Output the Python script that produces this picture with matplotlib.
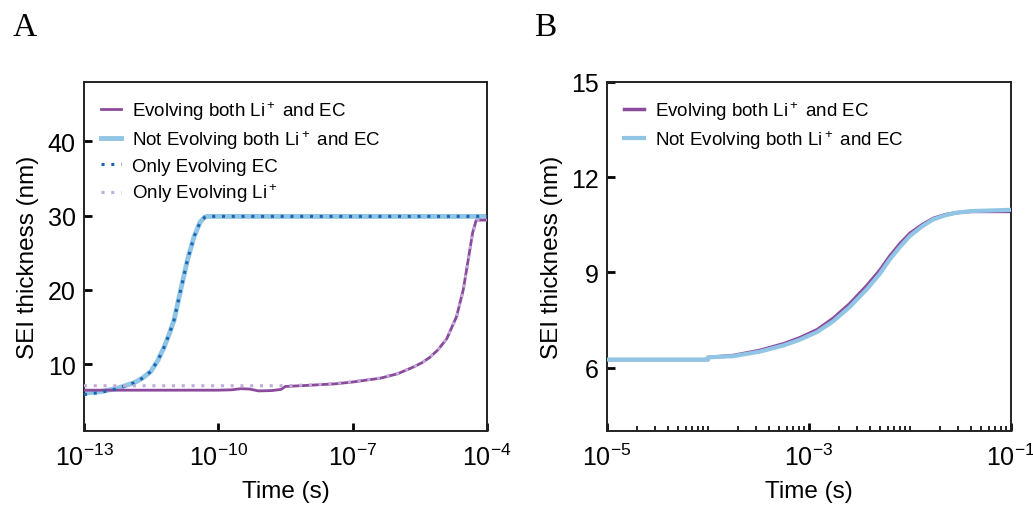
import matplotlib
matplotlib.use("Agg")
import matplotlib.pyplot as plt
import numpy as np
from matplotlib.ticker import FixedLocator, LogFormatterMathtext, NullFormatter

plt.rcParams['font.family'] = ['Liberation Sans', 'DejaVu Sans']
plt.rcParams['mathtext.fontset'] = 'custom'
plt.rcParams['mathtext.rm'] = 'Liberation Sans'
plt.rcParams['mathtext.it'] = 'Liberation Sans:italic'
plt.rcParams['mathtext.bf'] = 'Liberation Sans:bold'

# ---------------- Panel A data ----------------
a_notevolve_t = [1e-13, 10**-12.63, 10**-12.26, 10**-11.88, 10**-11.7, 10**-11.51, 10**-11.35,
                 10**-11.21, 10**-11.1, 10**-10.99, 10**-10.84, 10**-10.69, 10**-10.54,
                 10**-10.4, 10**-10.3, 10**-10.25, 1e-4]
a_notevolve_y = [6.1, 6.3, 6.75, 7.5, 8.1, 9.0, 10.5, 12.3, 14.0, 15.9, 20.0, 24.0, 27.2,
                 29.2, 29.8, 29.9, 29.9]

a_onlyec_t = a_notevolve_t
a_onlyec_y = [5.9, 6.2, 6.7, 7.5, 8.1, 9.0, 10.5, 12.3, 14.0, 15.9, 20.0, 24.0, 27.2,
              29.2, 29.8, 29.9, 29.9]

a_both_t = [1e-13, 1e-10, 10**-9.7, 10**-9.5, 10**-9.3, 10**-9.1, 10**-8.8, 10**-8.6, 10**-8.5,
            1e-8, 10**-7.4, 1e-7, 10**-6.7, 10**-6.39, 10**-6.0, 10**-5.65, 10**-5.45, 10**-5.28,
            10**-5.1, 10**-4.9, 10**-4.68, 10**-4.53, 10**-4.42, 10**-4.32, 10**-4.24, 1e-4]
a_both_y = [6.5, 6.5, 6.55, 6.7, 6.65, 6.4, 6.45, 6.6, 7.0,
            7.15, 7.35, 7.6, 7.85, 8.1, 8.7, 9.6, 10.2, 10.9,
            11.9, 13.4, 16.4, 20.0, 24.0, 27.7, 29.4, 29.4]

a_onlyli_t = [1e-13, 10**-8.5, 1e-8, 10**-7.4, 1e-7, 10**-6.7, 10**-6.39, 10**-6.0, 10**-5.65,
              10**-5.45, 10**-5.28, 10**-5.1, 10**-4.9, 10**-4.68, 10**-4.53, 10**-4.42,
              10**-4.32, 10**-4.23, 1e-4]
a_onlyli_y = [7.1, 7.1, 7.2, 7.4, 7.65, 7.9, 8.15, 8.75, 9.6,
              10.2, 10.9, 11.9, 13.4, 16.3, 19.9, 23.9, 27.6, 29.4, 29.4]

# ---------------- Panel B data ----------------
b_not_t = [1e-5, 1e-4, 1.0001e-4, 10**-3.75, 10**-3.49, 10**-3.25, 10**-3.09, 10**-2.92,
           10**-2.76, 10**-2.6, 10**-2.43, 10**-2.3, 10**-2.2, 10**-2.1, 10**-2.0, 10**-1.88,
           10**-1.77, 10**-1.65, 10**-1.54, 10**-1.4, 1e-1]
b_not_y = [6.25, 6.25, 6.32, 6.36, 6.5, 6.7, 6.88, 7.12, 7.46, 7.9, 8.46, 8.95, 9.41, 9.8,
           10.15, 10.45, 10.67, 10.8, 10.88, 10.93, 10.97]

b_both_t = b_not_t
b_both_y = [6.25, 6.25, 6.32, 6.38, 6.54, 6.75, 6.94, 7.19, 7.55, 8.0, 8.57, 9.06, 9.51, 9.9,
            10.23, 10.5, 10.7, 10.82, 10.88, 10.92, 10.92]

purple = '#8b4a9c'
lightblue = '#90c5e6'
darkblue = '#1c66b0'
lavender = '#c2abd8'

li = r'Li$^+$'
labels_a = ['Evolving both ' + li + ' and EC', 'Not Evolving both ' + li + ' and EC',
            'Only Evolving EC', 'Only Evolving ' + li]

fig = plt.figure(figsize=(10.33, 5.06), dpi=100)
axA = fig.add_axes([0.0813, 0.1462, 0.3901, 0.6898])
axB = fig.add_axes([0.5876, 0.1462, 0.3911, 0.6898])

leg_kw = dict(loc='upper left', frameon=False, fontsize=13.5, handlelength=1.1,
              labelspacing=0.36, borderaxespad=0.5, handletextpad=0.55, borderpad=0.4)

# Panel A
axA.plot(a_both_t, a_both_y, color=purple, lw=2.0, label=labels_a[0], zorder=3)
axA.plot(a_notevolve_t, a_notevolve_y, color=lightblue, lw=3.5, label=labels_a[1], zorder=2)
axA.plot(a_onlyec_t, a_onlyec_y, color=darkblue, lw=2.2, ls=(0, (1, 2.2)), label=labels_a[2], zorder=4)
axA.plot(a_onlyli_t, a_onlyli_y, color=lavender, lw=2.2, ls=(0, (1, 2.2)), label=labels_a[3], zorder=4)
axA.set_xscale('log')
axA.set_xlim(1e-13, 1e-4)
axA.set_ylim(1, 48)
axA.set_yticks([10, 20, 30, 40])
axA.xaxis.set_major_locator(FixedLocator([1e-13, 1e-10, 1e-7, 1e-4]))
axA.xaxis.set_major_formatter(LogFormatterMathtext())
axA.xaxis.set_minor_locator(FixedLocator([]))
axA.legend(**leg_kw)

# Panel B
axB.plot(b_both_t, b_both_y, color=purple, lw=2.5, label='Evolving both ' + li + ' and EC', zorder=2)
axB.plot(b_not_t, b_not_y, color=lightblue, lw=3.0, label='Not Evolving both ' + li + ' and EC', zorder=3)
axB.set_xscale('log')
axB.set_xlim(1e-5, 1e-1)
axB.set_ylim(4, 15)
axB.set_yticks([6, 9, 12, 15])
axB.xaxis.set_major_locator(FixedLocator([1e-5, 1e-3, 1e-1]))
axB.xaxis.set_major_formatter(LogFormatterMathtext())
minors = [k * 10.0**e for e in range(-5, -1) for k in range(1, 10)]
minors = [m for m in minors if not any(abs(m - M) / M < 1e-6 for M in [1e-5, 1e-3, 1e-1])]
axB.xaxis.set_minor_locator(FixedLocator(minors))
axB.xaxis.set_minor_formatter(NullFormatter())
axB.legend(**leg_kw)

for ax in (axA, axB):
    ax.set_xlabel('Time (s)', fontsize=17.5, labelpad=7)
    ax.set_ylabel('SEI thickness (nm)', fontsize=17.5, labelpad=6)
    ax.tick_params(which='major', direction='in', length=6, width=2, labelsize=18)
    ax.tick_params(axis='x', which='major', pad=9)
    ax.tick_params(axis='y', which='major', pad=6)
    ax.tick_params(which='minor', direction='in', length=3.5, width=1.2)
    for s in ax.spines.values():
        s.set_linewidth(1.4)
        s.set_color('#222222')

fig.text(25 / 1033, 1 - 28 / 506, 'A', fontsize=24, family='Liberation Serif', ha='center', va='center')
fig.text(545 / 1033, 1 - 28 / 506, 'B', fontsize=24, family='Liberation Serif', ha='center', va='center')

fig.savefig('out.png', dpi=100)
